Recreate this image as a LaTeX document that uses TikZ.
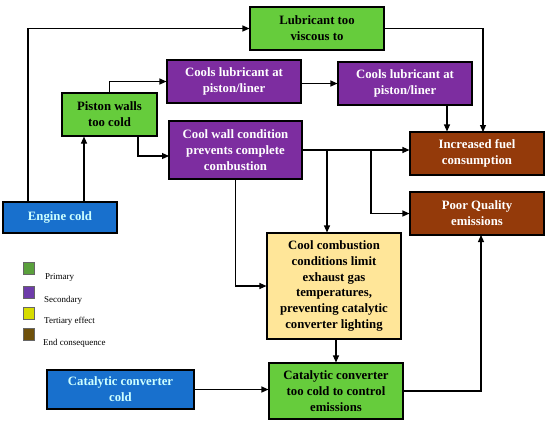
\documentclass[tikz,border=0pt]{standalone}
\usepackage{fontspec}
\setmainfont{Liberation Serif}
\usetikzlibrary{arrows.meta,calc}
\definecolor{boxgreen}{RGB}{102,204,60}
\definecolor{boxpurple}{RGB}{125,45,160}
\definecolor{boxbrown}{RGB}{148,58,10}
\definecolor{boxblue}{RGB}{24,112,205}
\definecolor{boxyellow}{RGB}{255,230,153}
\definecolor{bluetext}{RGB}{205,255,255}
\definecolor{lgreen}{RGB}{90,160,60}
\definecolor{lpurple}{RGB}{110,60,170}
\definecolor{lyellow}{RGB}{215,220,0}
\definecolor{lbrown}{RGB}{110,80,10}
\tikzset{
  x=1bp,y=-1bp,
  basebox/.style={draw=black,line width=1.1pt,rectangle,inner sep=0pt,align=center,
    font=\fontsize{12.8}{16}\selectfont\bfseries},
  greenbox/.style={basebox,fill=boxgreen,text=black},
  purplebox/.style={basebox,fill=boxpurple,text=white},
  brownbox/.style={basebox,fill=boxbrown,text=white},
  bluebox/.style={basebox,fill=boxblue,text=bluetext},
  yellowbox/.style={basebox,fill=boxyellow,text=black},
  arr/.style={draw=black,line width=1.1pt,-{Triangle[length=7bp,width=6bp]}},
  legsq/.style={draw=black!60,line width=0.6pt,minimum width=11bp,minimum height=12bp,inner sep=0pt},
  legtxt/.style={anchor=base west,inner sep=0pt,font=\fontsize{9}{11}\selectfont}
}
\begin{document}
\begin{tikzpicture}
\useasboundingbox (0,0) rectangle (550,423);
% boxes
\node[greenbox,minimum width=134bp,minimum height=43bp] (lub) at (317,28.5) {Lubricant too\\viscous to};
\node[purplebox,minimum width=134bp,minimum height=43bp] (cl1) at (234,81.5) {Cools lubricant at\\piston/liner};
\node[purplebox,minimum width=134bp,minimum height=43bp] (cl2) at (405,83.5) {Cools lubricant at\\piston/liner};
\node[greenbox,minimum width=95bp,minimum height=43bp] (pis) at (109.5,114.5) {Piston walls\\too cold};
\node[purplebox,minimum width=133bp,minimum height=58bp] (cw) at (235.5,150) {Cool wall condition\\prevents complete\\combustion};
\node[brownbox,minimum width=134bp,minimum height=43bp] (inc) at (477,153.5) {Increased fuel\\consumption};
\node[brownbox,minimum width=134bp,minimum height=43bp] (poor) at (477,213.5) {Poor Quality\\emissions};
\node[bluebox,minimum width=114bp,minimum height=31bp] (eng) at (60,217.5) {Engine cold};
\node[yellowbox,minimum width=134bp,minimum height=106bp] (cc) at (334,286) {Cool combustion\\conditions limit\\exhaust gas\\temperatures,\\preventing catalytic\\converter lighting};
\node[greenbox,minimum width=134bp,minimum height=56bp] (ctc) at (336,391) {Catalytic converter\\too cold to control\\emissions};
\node[bluebox,minimum width=147bp,minimum height=39bp] (cat) at (120.5,389.5) {Catalytic converter\\cold};
% legend
\node[legsq,fill=lgreen] (sq1) at (28.5,268) {};
\node[legsq,fill=lpurple] (sq2) at (28.5,292) {};
\node[legsq,fill=lyellow] (sq3) at (28.5,313) {};
\node[legsq,fill=lbrown] (sq4) at (28.5,334.5) {};
\node[legtxt] (t1) at (45,279) {Primary};
\node[legtxt] (t2) at (44,302) {Secondary};
\node[legtxt] (t3) at (44,323) {Tertiary effect};
\node[legtxt] (t4) at (43,345) {End consequence};
% helper coordinates
\coordinate (e1) at (28,202);
\coordinate (e2) at (84,202);
\coordinate (p4) at (138,136);
\coordinate (w4) at (169,156);
\coordinate (c6) at (447,105);
\coordinate (c7) at (483,132);
\coordinate (j9) at (327,150);
\coordinate (j10) at (371,150);
\coordinate (c14) at (481,235);
% connectors
\draw[arr] (e1) |- (lub.west);
\draw[arr] (e2) -- (e2 |- pis.south);
\draw[arr] (pis.north) |- (cl1.west);
\draw[arr] (p4) |- (w4);
\draw[arr] (cl1.east |- cl2.west) -- (cl2.west);
\draw[arr] (c6) -- (c6 |- inc.north);
\draw[arr] (lub.east) -| (c7);
\draw[arr] (cw.east) -- (cw.east -| inc.west);
\draw[arr] (j9) -- (j9 |- cc.north);
\draw[arr] (j10) |- (poor.west);
\draw[arr] (cw.south) |- (cc.west);
\draw[arr] (ctc.north |- cc.south) -- (ctc.north);
\draw[arr] (cat.east) -- (cat.east -| ctc.west);
\draw[arr] (ctc.east) -| (c14);
\end{tikzpicture}
\end{document}
